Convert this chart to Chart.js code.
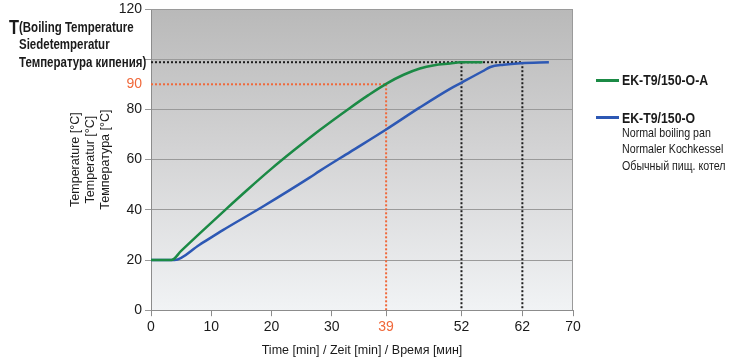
<!DOCTYPE html>
<html>
<head>
<meta charset="utf-8">
<script src="https://cdn.jsdelivr.net/npm/chart.js@4.4.1/dist/chart.umd.min.js"></script>
<style>
  body { margin: 0; background: #fff; }
  #wrap { position: relative; width: 745px; height: 362px; }
  #chart { position: absolute; left: 0; top: 0; }
  .txt { position: absolute; white-space: nowrap; color: #1a1a1a; line-height: 16px;
         font-family: 'Liberation Sans', Arial, sans-serif;
         transform: scaleX(0.82); transform-origin: 0 0; }
  .b { font-weight: bold; }
  .key { position: absolute; width: 23px; height: 3px; }
</style>
</head>
<body>
<div id="wrap">
  <canvas id="chart" width="745" height="362"></canvas>

  <!-- etiqueta da temperatura de ebulição -->
  <div class="txt b" style="left:9px;top:17px;font-size:20px;line-height:20px">T</div>
  <div class="txt b" style="left:19px;top:19px;font-size:14px">(Boiling Temperature</div>
  <div class="txt b" style="left:19px;top:36px;font-size:14px">Siedetemperatur</div>
  <div class="txt b" style="left:19px;top:54px;font-size:14px">Температура кипения)</div>

  <!-- legenda -->
  <div class="key" style="left:596px;top:79px;background:#1b8a45"></div>
  <div class="txt b" style="left:622px;top:72px;font-size:15px">EK-T9/150-O-A</div>
  <div class="key" style="left:596px;top:116px;background:#2d58b4"></div>
  <div class="txt b" style="left:622px;top:110px;font-size:15px">EK-T9/150-O</div>
  <div class="txt" style="left:622px;top:125px;font-size:13px">Normal boiling pan</div>
  <div class="txt" style="left:622px;top:141px;font-size:13px">Normaler Kochkessel</div>
  <div class="txt" style="left:622px;top:158px;font-size:13px">Обычный пищ. котел</div>
</div>

<script>
// Dados
var tempoA = [0, 3.4, 5, 8, 12.5, 16, 20, 23.6, 28, 33, 36, 39, 41.9, 44.6, 47, 49.6, 51.3, 55];
var tempA  = [20, 20, 23.6, 30.4, 40.4, 48, 56.4, 63.5, 71.8, 80.6, 85.6, 90.2, 93.8, 96.3, 97.6, 98.3, 98.8, 98.8];

var tempoO = [0, 3.9, 8, 12, 18.5, 26.3, 28, 33, 39, 44.6, 49.6, 51.3, 53, 55, 56.3, 58.5, 61.3, 66];
var tempO  = [20, 20, 26, 32, 41.2, 52.8, 55.5, 63, 72, 80.8, 88.2, 90.4, 92.6, 95.2, 96.9, 97.8, 98.4, 98.8];

var tempEbulicao = 98.8;
var temp90 = 90;
var tempo90 = 39;
var temposEbulicao = [51.5, 61.6];

var xTicks = [0, 10, 20, 30, 39, 51.5, 61.6, 70];
var xLabels = ['0', '10', '20', '30', '39', '52', '62', '70'];
var yTicks = [0, 20, 40, 60, 80, 90, 100, 120];
var yLabels = ['0', '20', '40', '60', '80', '90', '', '120'];

var laranja = '#f0683a';
var preto = '#1e1e1e';

function pontos(xs, ys) {
    return xs.map(function(x, i) { return { x: x, y: ys[i] }; });
}

function linhaPontilhada(dados, cor) {
    return {
        data: dados,
        borderColor: cor,
        borderWidth: 2,
        borderDash: [2, 2],
        pointRadius: 0,
        fill: false,
        order: 2
    };
}

// Fundo em degradê e moldura superior/direita
var fundoPlugin = {
    id: 'fundo',
    beforeDraw: function(chart) {
        var a = chart.chartArea, ctx = chart.ctx;
        var g = ctx.createLinearGradient(0, a.top, 0, a.bottom);
        g.addColorStop(0, '#b9b9b9');
        g.addColorStop(0.5, '#d5d5d6');
        g.addColorStop(1, '#f1f3f5');
        ctx.save();
        ctx.fillStyle = g;
        ctx.fillRect(a.left, a.top, a.right - a.left, a.bottom - a.top);
        ctx.restore();
    },
    afterDraw: function(chart) {
        var a = chart.chartArea, ctx = chart.ctx;
        ctx.save();
        ctx.strokeStyle = '#9a9a9a';
        ctx.lineWidth = 1;
        ctx.beginPath();
        ctx.moveTo(a.left, a.top + 0.5);
        ctx.lineTo(a.right - 0.5, a.top + 0.5);
        ctx.lineTo(a.right - 0.5, a.bottom);
        ctx.stroke();
        ctx.restore();
    }
};

Chart.defaults.font.family = "'Liberation Sans', Arial, sans-serif";
Chart.defaults.color = '#1a1a1a';

var ctx = document.getElementById('chart').getContext('2d');

var datasets = [
    {
        label: 'EK-T9/150-O-A',
        data: pontos(tempoA, tempA),
        borderColor: '#1b8a45',
        borderWidth: 2.5,
        pointRadius: 0,
        cubicInterpolationMode: 'monotone',
        order: 0
    },
    {
        label: 'EK-T9/150-O',
        data: pontos(tempoO, tempO),
        borderColor: '#2d58b4',
        borderWidth: 2.5,
        pointRadius: 0,
        cubicInterpolationMode: 'monotone',
        order: 0
    },
    linhaPontilhada([{ x: 0, y: tempEbulicao }, { x: temposEbulicao[1], y: tempEbulicao }], preto),
    linhaPontilhada([{ x: temposEbulicao[0], y: tempEbulicao }, { x: temposEbulicao[0], y: 0 }], preto),
    linhaPontilhada([{ x: temposEbulicao[1], y: tempEbulicao }, { x: temposEbulicao[1], y: 0 }], preto),
    linhaPontilhada([{ x: 0, y: temp90 }, { x: tempo90, y: temp90 }], laranja),
    linhaPontilhada([{ x: tempo90, y: temp90 }, { x: tempo90, y: 0 }], laranja)
];

var grafico = new Chart(ctx, {
    type: 'line',
    data: { datasets: datasets },
    plugins: [fundoPlugin],
    options: {
        responsive: false,
        animation: false,
        layout: { padding: { left: 68, right: 172, top: 0, bottom: 4 } },
        plugins: {
            legend: { display: false },
            tooltip: { enabled: false }
        },
        scales: {
            x: {
                type: 'linear',
                min: 0,
                max: 70,
                afterBuildTicks: function(scale) {
                    scale.ticks = xTicks.map(function(v) { return { value: v }; });
                },
                ticks: {
                    autoSkip: false,
                    maxRotation: 0,
                    padding: 3,
                    font: { size: 14 },
                    color: function(c) { return c.tick && c.tick.value === tempo90 ? laranja : '#1a1a1a'; },
                    callback: function(v) { return xLabels[xTicks.indexOf(v)]; }
                },
                grid: { drawOnChartArea: false, drawTicks: true, tickLength: 6, color: '#8c8c8c' },
                border: { color: '#8c8c8c' },
                title: {
                    display: true,
                    text: 'Time [min] / Zeit [min] / Время [мин]',
                    font: { size: 12.5 },
                    padding: { top: 4, bottom: 0 }
                }
            },
            y: {
                min: 0,
                max: 120,
                afterBuildTicks: function(scale) {
                    scale.ticks = yTicks.map(function(v) { return { value: v }; });
                },
                afterFit: function(scale) {
                    scale.width = 83;
                    scale.paddingTop = 9;
                },
                ticks: {
                    autoSkip: false,
                    padding: 3,
                    font: { size: 14 },
                    color: function(c) { return c.tick && c.tick.value === temp90 ? laranja : '#1a1a1a'; },
                    callback: function(v) { return yLabels[yTicks.indexOf(v)]; }
                },
                grid: {
                    tickLength: 6,
                    color: function(c) { return c.tick && c.tick.value === temp90 ? 'rgba(0,0,0,0)' : '#9a9a9a'; }
                },
                border: { color: '#8c8c8c' },
                title: {
                    display: true,
                    text: ['Temperature [°C]', 'Temperatur [°C]', 'Температура [°C]'],
                    font: { size: 12.5, lineHeight: 1.2 },
                    padding: { top: 0, bottom: 0 }
                }
            }
        }
    }
});
</script>
</body>
</html>
